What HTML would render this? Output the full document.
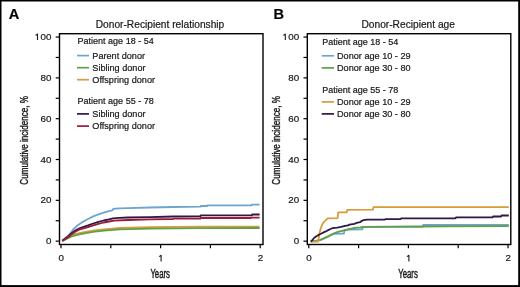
<!DOCTYPE html>
<html><head><meta charset="utf-8"><style>
html,body{margin:0;padding:0;background:#fff;}
svg{display:block;will-change:transform;}
text{font-family:"Liberation Sans", sans-serif;stroke:#181818;stroke-width:0.2px;}
</style></head><body>
<svg width="520" height="287" viewBox="0 0 520 287">
<rect x="0" y="0" width="520" height="287" fill="#fff"/>
<rect x="0" y="0" width="520" height="1.5" fill="#000"/>
<rect x="0" y="0" width="1.5" height="287" fill="#000"/>
<rect x="518.2" y="0" width="1.8" height="287" fill="#000"/>
<rect x="0" y="285.1" width="520" height="1.9" fill="#000"/>
<rect x="59.5" y="33.7" width="203.5" height="210.8" fill="none" stroke="#000" stroke-width="1.4"/>
<line x1="55.7" y1="241.15" x2="59.5" y2="241.15" stroke="#000" stroke-width="1.2"/>
<text x="51.4" y="244.25" text-anchor="end" font-size="9.8" fill="#181818">0</text>
<line x1="55.7" y1="220.74" x2="59.5" y2="220.74" stroke="#000" stroke-width="1.2"/>
<line x1="55.7" y1="200.33" x2="59.5" y2="200.33" stroke="#000" stroke-width="1.2"/>
<text x="51.4" y="203.43" text-anchor="end" font-size="9.8" fill="#181818">20</text>
<line x1="55.7" y1="179.92" x2="59.5" y2="179.92" stroke="#000" stroke-width="1.2"/>
<line x1="55.7" y1="159.51" x2="59.5" y2="159.51" stroke="#000" stroke-width="1.2"/>
<text x="51.4" y="162.61" text-anchor="end" font-size="9.8" fill="#181818">40</text>
<line x1="55.7" y1="139.10" x2="59.5" y2="139.10" stroke="#000" stroke-width="1.2"/>
<line x1="55.7" y1="118.69" x2="59.5" y2="118.69" stroke="#000" stroke-width="1.2"/>
<text x="51.4" y="121.79" text-anchor="end" font-size="9.8" fill="#181818">60</text>
<line x1="55.7" y1="98.28" x2="59.5" y2="98.28" stroke="#000" stroke-width="1.2"/>
<line x1="55.7" y1="77.87" x2="59.5" y2="77.87" stroke="#000" stroke-width="1.2"/>
<text x="51.4" y="80.97" text-anchor="end" font-size="9.8" fill="#181818">80</text>
<line x1="55.7" y1="57.46" x2="59.5" y2="57.46" stroke="#000" stroke-width="1.2"/>
<line x1="55.7" y1="37.05" x2="59.5" y2="37.05" stroke="#000" stroke-width="1.2"/>
<text x="51.4" y="40.15" text-anchor="end" font-size="9.8" fill="#181818">00</text>
<path d="M35.60,35.45 L37.30,34.05 L37.50,34.05 L37.50,40.00" fill="none" stroke="#181818" stroke-width="1.1" stroke-linejoin="round"/>
<line x1="61.00" y1="244.5" x2="61.00" y2="248.3" stroke="#000" stroke-width="1.2"/>
<text x="61.30" y="261.2" text-anchor="middle" font-size="9.8" fill="#181818">0</text>
<line x1="110.80" y1="244.5" x2="110.80" y2="248.3" stroke="#000" stroke-width="1.2"/>
<line x1="160.60" y1="244.5" x2="160.60" y2="248.3" stroke="#000" stroke-width="1.2"/>
<path d="M159.20,256.70 L160.90,255.30 L161.10,255.30 L161.10,261.60" fill="none" stroke="#181818" stroke-width="1.1" stroke-linejoin="round"/>
<line x1="210.40" y1="244.5" x2="210.40" y2="248.3" stroke="#000" stroke-width="1.2"/>
<line x1="260.20" y1="244.5" x2="260.20" y2="248.3" stroke="#000" stroke-width="1.2"/>
<text x="260.50" y="261.2" text-anchor="middle" font-size="9.8" fill="#181818">2</text>
<text x="160.2" y="278.0" text-anchor="middle" font-size="12" textLength="19.6" style="stroke-width:0.45px" lengthAdjust="spacingAndGlyphs" fill="#181818">Years</text>
<text transform="translate(27.6,140.4) rotate(-90)" x="0" y="0" text-anchor="middle" font-size="11.6" textLength="88.5" style="stroke-width:0.4px" lengthAdjust="spacingAndGlyphs" fill="#181818">Cumulative incidence, %</text>
<text x="160.0" y="27.6" text-anchor="middle" font-size="10.2" fill="#181818">Donor-Recipient relationship</text>
<text x="8.8" y="19.2" font-size="14.6" font-weight="bold" fill="#000">A</text>
<polyline points="62.3,240.8 65.0,238.4 68.7,235.2 71.7,231.6 73.7,228.9 77.4,225.5 81.8,222.4 86.2,220.0 88.0,219.0 93.2,216.4 98.4,214.3 103.7,212.6 108.9,211.1 112.2,210.4 113.2,208.9 119.3,208.4 128.0,208.1 150.0,207.5 173.0,207.0 200.4,206.7 200.6,206.0 207.1,206.0 207.3,205.3 251.6,205.3 251.8,204.6 259.6,204.6" fill="none" stroke="#6ea5cf" stroke-width="1.8" stroke-linejoin="round"/>
<polyline points="62.3,241.0 66.9,237.8 71.7,235.2 79.4,233.1 87.1,231.6 94.8,230.4 104.0,229.3 120.0,228.0 150.0,227.1 200.0,226.7 259.6,226.6" fill="none" stroke="#d89c38" stroke-width="1.8" stroke-linejoin="round"/>
<polyline points="62.3,241.0 66.9,238.8 71.7,236.4 79.4,234.4 87.1,232.9 94.8,231.7 104.0,230.6 120.0,229.4 150.0,228.7 200.0,228.2 259.6,228.0" fill="none" stroke="#62a047" stroke-width="1.8" stroke-linejoin="round"/>
<polyline points="62.3,240.8 67.0,237.3 71.3,233.5 75.7,230.3 80.0,228.0 84.4,226.6 88.0,225.4 93.2,223.5 98.4,221.8 103.7,220.5 108.9,219.4 113.0,218.4 119.3,217.8 128.0,217.5 150.0,217.1 173.0,216.5 200.4,216.3 200.6,215.4 252.0,215.4 252.2,214.5 259.6,214.5" fill="none" stroke="#2f1748" stroke-width="1.8" stroke-linejoin="round"/>
<polyline points="62.3,240.8 67.0,238.0 71.3,234.5 75.7,231.5 80.0,229.3 84.4,228.1 88.0,227.1 93.2,225.4 98.4,223.8 103.7,222.5 108.9,221.5 114.1,220.6 128.0,220.0 150.0,219.4 173.0,219.0 173.5,218.6 200.4,218.6 200.6,218.0 250.9,218.0 251.3,217.7 259.6,217.7" fill="none" stroke="#9c1a36" stroke-width="1.8" stroke-linejoin="round"/>
<text x="77.60" y="44.45" font-size="9" fill="#181818">Patient age 18 - 54</text>
<line x1="77.0" y1="55.6" x2="89.0" y2="55.6" stroke="#6ea5cf" stroke-width="1.7"/>
<text x="92.30" y="58.55" font-size="9.15" fill="#181818">Parent donor</text>
<line x1="77.0" y1="67.7" x2="89.0" y2="67.7" stroke="#62a047" stroke-width="1.7"/>
<text x="92.30" y="70.65" font-size="9.15" fill="#181818">Sibling donor</text>
<line x1="77.0" y1="79.7" x2="89.0" y2="79.7" stroke="#d89c38" stroke-width="1.7"/>
<text x="92.30" y="82.65" font-size="9.15" fill="#181818">Offspring donor</text>
<text x="77.60" y="104.45" font-size="9" fill="#181818">Patient age 55 - 78</text>
<line x1="77.0" y1="113.9" x2="89.0" y2="113.9" stroke="#2f1748" stroke-width="1.7"/>
<text x="92.30" y="116.85" font-size="9.15" fill="#181818">Sibling donor</text>
<line x1="77.0" y1="126.1" x2="89.0" y2="126.1" stroke="#9c1a36" stroke-width="1.7"/>
<text x="92.30" y="129.05" font-size="9.15" fill="#181818">Offspring donor</text>
<rect x="307.3" y="33.7" width="203.5" height="210.8" fill="none" stroke="#000" stroke-width="1.4"/>
<line x1="303.5" y1="241.15" x2="307.3" y2="241.15" stroke="#000" stroke-width="1.2"/>
<text x="299.2" y="244.25" text-anchor="end" font-size="9.8" fill="#181818">0</text>
<line x1="303.5" y1="220.74" x2="307.3" y2="220.74" stroke="#000" stroke-width="1.2"/>
<line x1="303.5" y1="200.33" x2="307.3" y2="200.33" stroke="#000" stroke-width="1.2"/>
<text x="299.2" y="203.43" text-anchor="end" font-size="9.8" fill="#181818">20</text>
<line x1="303.5" y1="179.92" x2="307.3" y2="179.92" stroke="#000" stroke-width="1.2"/>
<line x1="303.5" y1="159.51" x2="307.3" y2="159.51" stroke="#000" stroke-width="1.2"/>
<text x="299.2" y="162.61" text-anchor="end" font-size="9.8" fill="#181818">40</text>
<line x1="303.5" y1="139.10" x2="307.3" y2="139.10" stroke="#000" stroke-width="1.2"/>
<line x1="303.5" y1="118.69" x2="307.3" y2="118.69" stroke="#000" stroke-width="1.2"/>
<text x="299.2" y="121.79" text-anchor="end" font-size="9.8" fill="#181818">60</text>
<line x1="303.5" y1="98.28" x2="307.3" y2="98.28" stroke="#000" stroke-width="1.2"/>
<line x1="303.5" y1="77.87" x2="307.3" y2="77.87" stroke="#000" stroke-width="1.2"/>
<text x="299.2" y="80.97" text-anchor="end" font-size="9.8" fill="#181818">80</text>
<line x1="303.5" y1="57.46" x2="307.3" y2="57.46" stroke="#000" stroke-width="1.2"/>
<line x1="303.5" y1="37.05" x2="307.3" y2="37.05" stroke="#000" stroke-width="1.2"/>
<text x="299.2" y="40.15" text-anchor="end" font-size="9.8" fill="#181818">00</text>
<path d="M283.40,35.45 L285.10,34.05 L285.30,34.05 L285.30,40.00" fill="none" stroke="#181818" stroke-width="1.1" stroke-linejoin="round"/>
<line x1="308.80" y1="244.5" x2="308.80" y2="248.3" stroke="#000" stroke-width="1.2"/>
<text x="309.10" y="261.2" text-anchor="middle" font-size="9.8" fill="#181818">0</text>
<line x1="358.60" y1="244.5" x2="358.60" y2="248.3" stroke="#000" stroke-width="1.2"/>
<line x1="408.40" y1="244.5" x2="408.40" y2="248.3" stroke="#000" stroke-width="1.2"/>
<path d="M407.00,256.70 L408.70,255.30 L408.90,255.30 L408.90,261.60" fill="none" stroke="#181818" stroke-width="1.1" stroke-linejoin="round"/>
<line x1="458.20" y1="244.5" x2="458.20" y2="248.3" stroke="#000" stroke-width="1.2"/>
<line x1="508.00" y1="244.5" x2="508.00" y2="248.3" stroke="#000" stroke-width="1.2"/>
<text x="508.30" y="261.2" text-anchor="middle" font-size="9.8" fill="#181818">2</text>
<text x="408.0" y="278.0" text-anchor="middle" font-size="12" textLength="19.6" style="stroke-width:0.45px" lengthAdjust="spacingAndGlyphs" fill="#181818">Years</text>
<text transform="translate(279.6,140.4) rotate(-90)" x="0" y="0" text-anchor="middle" font-size="11.6" textLength="88.5" style="stroke-width:0.4px" lengthAdjust="spacingAndGlyphs" fill="#181818">Cumulative incidence, %</text>
<text x="408.2" y="27.6" text-anchor="middle" font-size="10.2" fill="#181818">Donor-Recipient age</text>
<text x="273.4" y="19.2" font-size="14.6" font-weight="bold" fill="#000">B</text>
<polyline points="310.8,241.6 316.0,241.0 320.0,240.2 323.7,238.7 328.0,236.7 331.8,234.8 334.0,233.8 344.0,233.5 344.4,230.2 348.3,229.6 352.0,229.5 362.4,229.4 362.8,227.1 392.0,226.9 422.7,226.8 423.1,225.0 508.8,225.0" fill="none" stroke="#6ea5cf" stroke-width="1.8" stroke-linejoin="round"/>
<polyline points="310.8,241.6 313.0,241.2 316.0,240.8 318.0,240.5 320.4,239.9 322.0,239.0 323.6,238.4 325.8,237.4 328.0,236.4 329.7,235.5 331.8,234.4 334.0,233.4 337.3,232.2 340.0,231.4 343.0,230.6 346.0,230.0 348.3,229.2 352.1,228.5 354.4,228.0 357.0,227.6 360.0,227.3 363.5,226.8 392.2,226.7 416.6,226.5 449.4,226.3 508.8,226.2" fill="none" stroke="#62a047" stroke-width="1.8" stroke-linejoin="round"/>
<polyline points="310.8,241.6 318.2,241.6 318.8,237.5 319.8,232.0 320.6,229.0 321.4,226.6 322.4,224.3 323.5,222.6 324.5,221.5 325.6,220.3 326.8,219.2 328.0,218.3 337.6,218.2 338.2,212.4 346.7,212.3 347.3,209.8 372.9,209.7 373.4,207.2 508.8,207.2" fill="none" stroke="#d89c38" stroke-width="1.8" stroke-linejoin="round"/>
<polyline points="310.8,241.6 312.5,240.0 314.0,238.0 316.0,236.5 318.5,234.9 320.0,234.2 322.0,233.3 323.6,232.4 325.8,231.4 327.2,230.7 328.2,230.1 330.0,229.2 332.0,228.3 334.0,227.8 337.3,227.6 341.2,226.9 345.0,225.9 348.0,225.4 349.5,224.6 354.4,223.9 356.8,222.8 360.0,222.2 361.9,220.8 363.5,220.2 367.2,219.6 384.9,219.5 385.3,219.2 400.7,219.1 401.2,218.3 455.5,218.3 456.0,217.4 492.6,217.4 493.0,216.5 501.1,216.5 501.5,215.5 508.8,215.5" fill="none" stroke="#2f1748" stroke-width="1.8" stroke-linejoin="round"/>
<text x="322.30" y="44.65" font-size="9" fill="#181818">Patient age 18 - 54</text>
<line x1="321.7" y1="55.8" x2="334.0" y2="55.8" stroke="#6ea5cf" stroke-width="1.7"/>
<text x="337.00" y="58.75" font-size="9.15" fill="#181818">Donor age 10 - 29</text>
<line x1="321.7" y1="67.9" x2="334.0" y2="67.9" stroke="#62a047" stroke-width="1.7"/>
<text x="337.00" y="70.85" font-size="9.15" fill="#181818">Donor age 30 - 80</text>
<text x="322.30" y="92.65" font-size="9" fill="#181818">Patient age 55 - 78</text>
<line x1="321.7" y1="101.9" x2="334.0" y2="101.9" stroke="#d89c38" stroke-width="1.7"/>
<text x="337.00" y="104.85" font-size="9.15" fill="#181818">Donor age 10 - 29</text>
<line x1="321.7" y1="113.9" x2="334.0" y2="113.9" stroke="#2f1748" stroke-width="1.7"/>
<text x="337.00" y="116.85" font-size="9.15" fill="#181818">Donor age 30 - 80</text>
</svg>
</body></html>
